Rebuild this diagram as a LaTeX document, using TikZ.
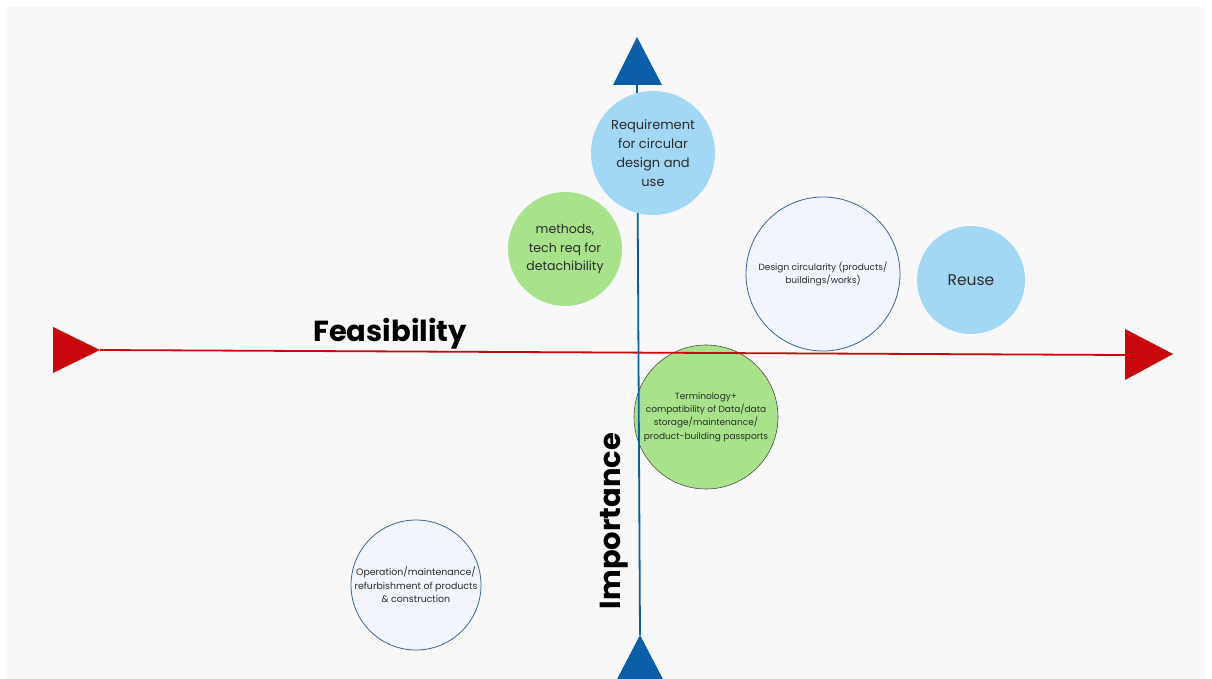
\documentclass[tikz,border=0pt]{standalone}
\usepackage{fontspec}
\setmainfont{Poppins}
\definecolor{bgc}{HTML}{F8F8F8}
\definecolor{axred}{HTML}{C8080C}
\definecolor{axblue}{HTML}{0B5FA8}
\definecolor{lblue}{HTML}{A3D8F5}
\definecolor{lgreen}{HTML}{A8E38C}
\definecolor{pale}{HTML}{F2F6FC}
\definecolor{edgeblue}{HTML}{3A6690}
\definecolor{txt}{HTML}{2A2A2A}
\begin{document}
\begin{tikzpicture}[x=1pt,y=-1pt,
  bubble/.style={circle,inner sep=0pt,align=center,text=txt},
  bluebub/.style={bubble,fill=lblue},
  greenbub/.style={bubble,fill=lgreen},
  palebub/.style={bubble,fill=pale,draw=edgeblue,line width=0.8pt},
  axislabel/.style={font=\fontsize{29}{34}\selectfont\bfseries,text=black}]
\useasboundingbox (0,0) rectangle (1212,679);
\fill[bgc] (7,7) rectangle (1205,679);
% lower-layer bubbles
\node[greenbub,minimum size=114pt,font=\fontsize{12.5}{18.5}\selectfont] (meth) at (565,249) {methods,\\tech req for\\detachibility};
\node[palebub,minimum size=154pt,font=\fontsize{9}{13}\selectfont] (design) at (823,274) {Design circularity (products/\\buildings/works)};
\node[bluebub,minimum size=108pt,font=\fontsize{15.5}{19}\selectfont] (reuse) at (971,280) {Reuse};
\node[greenbub,draw=black!70,line width=0.6pt,minimum size=144pt,font=\fontsize{9}{13.3}\selectfont] (term) at (706,417) {Terminology+\\compatibility of Data/data\\storage/maintenance/\\product-building passports};
\node[palebub,minimum size=130pt,font=\fontsize{9.4}{13.5}\selectfont] (oper) at (416,585) {Operation/maintenance/\\refurbishment of products\\\& construction};
% axes
\coordinate (hL) at (100,350);
\coordinate (hR) at (1125,355);
\coordinate (vT) at (637,85);
\coordinate (vB) at (640,635);
\draw[axred,line width=1.8pt] (hL) -- (hR);
\draw[axblue,line width=1.8pt] (vT) -- (vB);
\fill[axred] (hL) -- ++(-47,-23) -- ++(0,46) -- cycle;
\fill[axred] (hR) ++(0,-26) -- ++(48,25) -- ++(-48,26) -- cycle;
\fill[axblue] (vT) ++(-24,0) -- (637,37) -- ++(25,48) -- cycle;
\begin{scope}
\clip (0,0) rectangle (1212,679);
\fill[axblue] (vB) -- ++(-26,50) -- ++(52,0) -- cycle;
\end{scope}
% top bubble covers the vertical axis
\node[bluebub,minimum size=124pt,font=\fontsize{13}{19}\selectfont] (req) at (653,153) {Requirement\\for circular\\design and\\use};
% axis labels
\node[axislabel] (feas) at (390,334) {Feasibility};
\node[axislabel,rotate=90] (imp) at (614,521) {Importance};
\end{tikzpicture}
\end{document}
